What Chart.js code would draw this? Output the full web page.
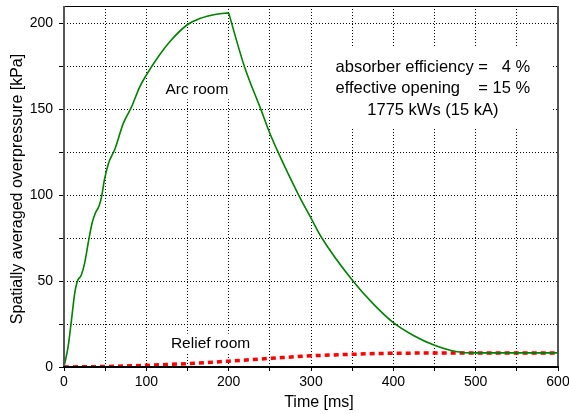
<!DOCTYPE html>
<html>
<head>
<meta charset="utf-8">
<script src="https://cdn.jsdelivr.net/npm/chart.js@4"></script>
<style>
  html, body { margin: 0; padding: 0; background: #fff; }
  #wrap { width: 569px; height: 414px; }
</style>
</head>
<body>
<div id="wrap"><canvas id="myChart" width="569" height="414"></canvas></div>
<script>
// arc room pressure (rise up to the peak, then decay)
var arcRiseTime = [0, 5, 9, 13, 16, 21, 25, 30, 34, 38, 43, 46, 49, 54, 62, 72, 82, 92, 100, 113, 129, 149, 165, 185, 200];
var arcRisePressure = [0, 11.8, 27, 42.8, 49.6, 53.5, 60.3, 73.8, 83.5, 89.4, 94.2, 100, 108.7, 118.4, 127, 141.7, 151.3, 163, 169.8, 179.5, 189.5, 198.8, 202.7, 205.2, 206];
var arcFallTime = [200, 219, 239, 250, 260, 285, 300, 313, 350, 375, 400, 425, 450, 470, 485, 500, 600];
var arcFallPressure = [206, 175, 150, 136, 125, 100, 86.6, 75.2, 50.6, 37, 25.8, 18.2, 12.6, 9.6, 8.4, 8.2, 8.2];

// relief room pressure
var reliefTime = [0, 50, 100, 150, 200, 250, 300, 350, 400, 450, 500, 550, 600];
var reliefPressure = [0, 0.3, 1.0, 2.0, 3.4, 5.0, 6.5, 7.4, 8.0, 8.1, 8.2, 8.2, 8.2];

var xTicks = [0, 50, 100, 150, 200, 250, 300, 350, 400, 450, 500, 550, 600];
var xTickLabels = ["0", "", "100", "", "200", "", "300", "", "400", "", "500", "", "600"];
var yTicks = [0, 25, 50, 75, 100, 125, 150, 175, 200];
var yTickLabels = ["0", "", "50", "", "100", "", "150", "", "200"];

var xTitle = "Time [ms]";
var yTitle = "Spatially averaged overpressure [kPa]";
var curveLabels = ["Arc room", "Relief room"];
var noteLines = ["absorber efficiency =   4 %", "effective opening    = 15 %", "1775 kWs (15 kA)"];

function toPoints(xs, ys) {
    var pts = [];
    for (var i = 0; i < xs.length; i++) pts.push({ x: xs[i], y: ys[i] });
    return pts;
}

var FONT = "'Liberation Sans', Arial, sans-serif";

var textPlugin = {
    id: "texts",
    beforeDatasetsDraw: function (chart) {
        var ctx = chart.ctx;
        var xs = chart.scales.x, ys = chart.scales.y;
        ctx.save();
        // white box behind the note
        var bx0 = xs.getPixelForValue(301), bx1 = xs.getPixelForValue(594);
        var by0 = ys.getPixelForValue(186), by1 = ys.getPixelForValue(139);
        ctx.fillStyle = "#fff";
        ctx.fillRect(bx0, by0, bx1 - bx0, by1 - by0);
        ctx.font = "16.5px " + FONT;
        ctx.fillStyle = "#000";
        ctx.textAlign = "center";
        ctx.textBaseline = "middle";
        var noteY = [174, 162, 149.5];
        for (var i = 0; i < noteLines.length; i++) {
            ctx.fillText(noteLines[i], xs.getPixelForValue(448), ys.getPixelForValue(noteY[i]));
        }
        // curve labels
        ctx.font = "15.5px " + FONT;
        var lx = [161.5, 178], ly = [161.5, 13.6];
        for (var j = 0; j < curveLabels.length; j++) {
            var px = xs.getPixelForValue(lx[j]), py = ys.getPixelForValue(ly[j]);
            var w = ctx.measureText(curveLabels[j]).width;
            ctx.fillStyle = "#fff";
            ctx.fillRect(px - w / 2 - 3, py - 10, w + 6, 20);
            ctx.fillStyle = "#000";
            ctx.fillText(curveLabels[j], px, py);
        }
        ctx.restore();
    },
    afterDraw: function (chart) {
        var a = chart.chartArea, ctx = chart.ctx;
        ctx.save();
        ctx.setLineDash([]);
        // top and right frame
        ctx.strokeStyle = "#000";
        ctx.lineWidth = 1;
        ctx.beginPath();
        ctx.moveTo(a.left, a.top + 0.5);
        ctx.lineTo(a.right, a.top + 0.5);
        ctx.stroke();
        ctx.strokeStyle = "#555";
        ctx.lineWidth = 2;
        ctx.beginPath();
        ctx.moveTo(a.right, a.top);
        ctx.lineTo(a.right, a.bottom);
        ctx.stroke();
        // left and bottom axis lines
        ctx.beginPath();
        ctx.moveTo(a.left, a.top);
        ctx.lineTo(a.left, a.bottom + 1);
        ctx.stroke();
        ctx.strokeStyle = "#000";
        ctx.beginPath();
        ctx.moveTo(a.left - 1, a.bottom);
        ctx.lineTo(a.right + 1, a.bottom);
        ctx.stroke();
        // axis titles
        ctx.fillStyle = "#000";
        ctx.font = "16px " + FONT;
        ctx.textAlign = "center";
        ctx.textBaseline = "middle";
        ctx.fillText(xTitle, 319, 403);
        ctx.translate(18, 189);
        ctx.rotate(-Math.PI / 2);
        ctx.fillText(yTitle, 0, 0);
        ctx.restore();
    }
};

var gridOpts = {
    color: "#000",
    lineWidth: 1,
    tickColor: "#000",
    tickBorderDash: []
};

new Chart("myChart", {
    type: "line",
    data: {
        datasets: [{
            label: curveLabels[0],
            data: toPoints(arcRiseTime, arcRisePressure),
            borderColor: "#008000",
            borderWidth: 1.6,
            pointRadius: 0,
            cubicInterpolationMode: "monotone",
            fill: false
        }, {
            label: curveLabels[0],
            data: toPoints(arcFallTime, arcFallPressure),
            borderColor: "#008000",
            borderWidth: 1.6,
            pointRadius: 0,
            cubicInterpolationMode: "monotone",
            fill: false
        }, {
            label: curveLabels[1],
            data: toPoints(reliefTime, reliefPressure),
            borderColor: "#ff0000",
            borderWidth: 3.5,
            borderDash: [5, 4],
            pointRadius: 0,
            cubicInterpolationMode: "monotone",
            fill: false
        }]
    },
    plugins: [textPlugin],
    options: {
        responsive: false,
        animation: false,
        layout: { padding: { top: 6, right: 11, left: 0, bottom: 0 } },
        plugins: {
            legend: { display: false },
            tooltip: { enabled: false }
        },
        scales: {
            x: {
                type: "linear",
                min: 0,
                max: 600,
                afterBuildTicks: function (s) {
                    s.ticks = xTicks.map(function (v) { return { value: v }; });
                },
                afterFit: function (s) {
                    s.height = 47;
                    s.paddingLeft = 0;
                    s.paddingRight = 0;
                },
                ticks: {
                    autoSkip: false,
                    maxRotation: 0,
                    padding: 3,
                    color: "#000",
                    font: { family: FONT, size: 14 },
                    callback: function (v) { return xTickLabels[xTicks.indexOf(v)]; }
                },
                grid: Object.assign({ tickLength: 4 }, gridOpts),
                border: { display: false, dash: [1, 2] }
            },
            y: {
                type: "linear",
                min: 0,
                max: 210,
                afterBuildTicks: function (s) {
                    s.ticks = yTicks.map(function (v) { return { value: v }; });
                },
                afterFit: function (s) {
                    s.width = 64;
                    s.paddingTop = 0;
                    s.paddingBottom = 0;
                },
                ticks: {
                    autoSkip: false,
                    padding: 6,
                    color: "#000",
                    font: { family: FONT, size: 14 },
                    callback: function (v) { return yTickLabels[yTicks.indexOf(v)]; }
                },
                grid: Object.assign({ tickLength: 5 }, gridOpts),
                border: { display: false, dash: [1, 2] }
            }
        }
    }
});
</script>
</body>
</html>
